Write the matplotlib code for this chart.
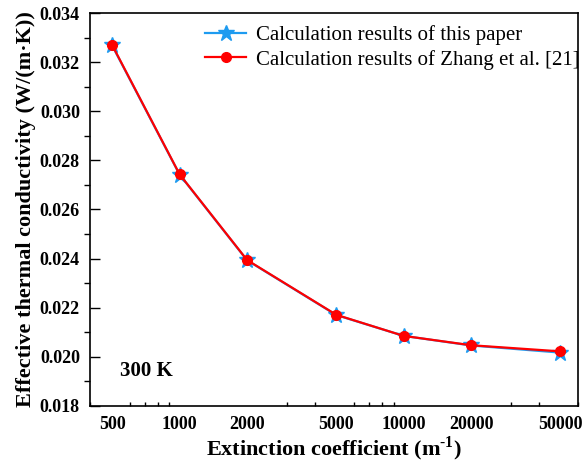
import matplotlib
matplotlib.use("Agg")
import matplotlib.pyplot as plt
import matplotlib.ticker as mticker

# ─── Dados ────────────────────────────────────────────────────────────────────
extinction = [500, 1000, 2000, 5000, 10000, 20000, 50000]
k_this_paper = [0.03268, 0.02742, 0.02393, 0.02170, 0.02085, 0.02046, 0.02017]
k_zhang = [0.03270, 0.02743, 0.02394, 0.02171, 0.02085, 0.02047, 0.02022]
x_ticks = [500, 1000, 2000, 5000, 10000, 20000, 50000]
x_ticklabels = ["500", "1000", "2000", "5000", "10000", "20000", "50000"]
y_ticks = [0.018, 0.020, 0.022, 0.024, 0.026, 0.028, 0.030, 0.032, 0.034]

plt.rcParams["font.family"] = ["Liberation Serif", "DejaVu Serif"]
plt.rcParams["mathtext.fontset"] = "custom"
plt.rcParams["mathtext.rm"] = "Liberation Serif:bold"
plt.rcParams["mathtext.bf"] = "Liberation Serif:bold"

fig = plt.figure(figsize=(5.87, 4.66), dpi=100)
ax = fig.add_axes([0.154, 0.129, 0.831, 0.843])

ax.plot(extinction, k_this_paper, color="#1E9BF0", linewidth=1.6,
        marker="*", markersize=12, label="Calculation results of this paper")
ax.plot(extinction, k_zhang, color="#FF0000", linewidth=1.6,
        marker="o", markersize=7, label="Calculation results of Zhang et al. [21]")

ax.set_xscale("log")
ax.set_xlim(400, 60000)
ax.set_ylim(0.018, 0.034)
ax.set_xticks(x_ticks)
ax.set_xticklabels(x_ticklabels)
ax.xaxis.set_minor_locator(mticker.LogLocator(base=10, subs=range(2, 10)))
ax.xaxis.set_minor_formatter(mticker.NullFormatter())
ax.set_yticks(y_ticks)
ax.yaxis.set_major_formatter(mticker.FormatStrFormatter("%.3f"))
ax.yaxis.set_minor_locator(mticker.MultipleLocator(0.001))

ax.tick_params(axis="x", which="major", length=0, pad=7, labelsize=13)
ax.tick_params(axis="x", which="minor", direction="in", length=3, width=1)
ax.tick_params(axis="y", which="major", direction="in", length=7, width=1,
               labelsize=13, pad=7.5)
ax.tick_params(axis="y", which="minor", direction="out", length=4, width=1)
for lbl in ax.get_xticklabels() + ax.get_yticklabels():
    lbl.set_fontweight("bold")
for sp in ax.spines.values():
    sp.set_linewidth(1.2)

ax.set_xlabel(r"Extinction coefficient (m$^{\text{-1}}$)", fontsize=16,
              fontweight="bold", labelpad=1)
ax.set_ylabel("Effective thermal conductivity (W/(m·K))", fontsize=16,
              fontweight="bold", labelpad=3)

ax.text(0.06, 0.076, "300 K", transform=ax.transAxes, fontsize=15,
        fontweight="bold")

ax.legend(loc="upper right", bbox_to_anchor=(1.028, 1.0), frameon=False,
          fontsize=15, handlelength=2.0, handletextpad=0.45,
          labelspacing=0.2, borderaxespad=0.2)

fig.savefig("out.png", dpi=100)
